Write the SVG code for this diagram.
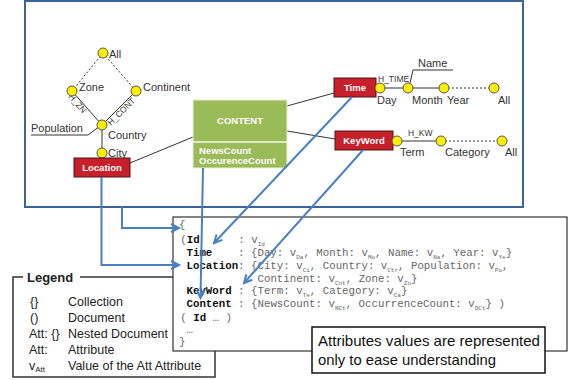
<svg xmlns="http://www.w3.org/2000/svg" width="577" height="380" viewBox="0 0 577 380">
<defs>
<style>
.lbl{font-family:"Liberation Sans",Arial,sans-serif;font-size:11px;fill:#333}
.sm{font-family:"Liberation Sans",Arial,sans-serif;font-size:8.5px;fill:#333}
.bx{font-family:"Liberation Sans",Arial,sans-serif;font-size:9.5px;font-weight:bold;fill:#fff}
.red{fill:#c8202a;stroke:#4a1414;stroke-width:1}
.dot{fill:#ffee00;stroke:#555;stroke-width:1}
.ln{stroke:#333;stroke-width:1;fill:none}
.dash{stroke:#333;stroke-width:1;fill:none;stroke-dasharray:2,2}
.blue{stroke:#4a7fc1;stroke-width:2;fill:none;marker-end:url(#ah)}
.code{font-family:"Liberation Mono","Courier New",monospace;font-size:10.75px;fill:#666;white-space:pre}
.k{font-weight:bold;fill:#111}
.s{font-size:6px}
.leg{font-family:"Liberation Sans",Arial,sans-serif;font-size:12.5px;fill:#222}
.note{font-family:"Liberation Sans",Arial,sans-serif;font-size:14.5px;fill:#111}
</style>
<marker id="ah" markerUnits="userSpaceOnUse" markerWidth="12" markerHeight="12" refX="9" refY="5" orient="auto" viewBox="0 0 12 10">
<path d="M1,1 L9,5 L1,9" fill="none" stroke="#4a7fc1" stroke-width="2"/>
</marker>
</defs>
<rect width="577" height="380" fill="#fff"/>

<g id="frame">
<rect x="25" y="1" width="498" height="206" fill="none" stroke="#3c6496" stroke-width="2"/>
</g>

<g id="edges">
<line class="dash" x1="103" y1="53" x2="72" y2="91"/>
<line class="dash" x1="103" y1="53" x2="136" y2="91"/>
<line class="ln" x1="72" y1="91" x2="102" y2="125"/>
<line class="ln" x1="136" y1="91" x2="102" y2="125"/>
<line class="ln" x1="102" y1="125" x2="102" y2="153"/>
<polyline class="ln" points="31,135 88,135 100,126"/>
<line class="ln" x1="130" y1="163" x2="193" y2="137"/>
<line class="ln" x1="287" y1="106" x2="334" y2="93"/>
<line class="ln" x1="287" y1="131" x2="335" y2="139"/>
<line class="ln" x1="376" y1="88" x2="444" y2="88"/>
<line class="dash" x1="444" y1="88" x2="494" y2="88"/>
<polyline class="ln" points="453,70 413,70 410,83"/>
<line class="ln" x1="393" y1="141" x2="441" y2="141"/>
<line class="dash" x1="441" y1="141" x2="502" y2="141"/>
<text class="sm" transform="translate(68,97) rotate(48.6)">H_ZN</text>
<text class="sm" transform="translate(111,126) rotate(-45)">H_CONT</text>
<text class="sm" x="378" y="82">H_TIME</text>
<text class="sm" x="408" y="136">H_KW</text>
</g>

<g id="location-hierarchy">
<circle class="dot" cx="103" cy="53" r="5"/>
<circle class="dot" cx="72" cy="91" r="5"/>
<circle class="dot" cx="136" cy="91" r="5"/>
<circle class="dot" cx="102" cy="125" r="5"/>
<circle class="dot" cx="102" cy="153" r="5"/>
<text class="lbl" x="109" y="58">All</text>
<text class="lbl" x="79" y="91">Zone</text>
<text class="lbl" x="143" y="91">Continent</text>
<text class="lbl" x="108" y="139">Country</text>
<text class="lbl" x="108" y="157">City</text>
<text class="lbl" x="31" y="132">Population</text>
</g>

<g id="location">
<rect class="red" x="74" y="158" width="56" height="19"/>
<text class="bx" x="102" y="171" text-anchor="middle">Location</text>
</g>

<g id="content">
<rect x="193" y="100" width="94" height="68" fill="#9bbb59" stroke="#e6eed8" stroke-width="1"/>
<line x1="193" y1="142" x2="287" y2="142" stroke="#f4f8ee" stroke-width="1.5"/>
<text class="bx" x="240" y="124" text-anchor="middle">CONTENT</text>
<text class="bx" x="199" y="154">NewsCount</text>
<text class="bx" x="199" y="164">OccurenceCount</text>
</g>

<g id="time">
<rect class="red" x="334" y="78" width="42" height="19"/>
<text class="bx" x="355" y="91" text-anchor="middle">Time</text>
<circle class="dot" cx="380" cy="88" r="5"/>
<circle class="dot" cx="408" cy="88" r="5"/>
<circle class="dot" cx="444" cy="88" r="5"/>
<circle class="dot" cx="494" cy="88" r="5"/>
<text class="lbl" x="377" y="104">Day</text>
<text class="lbl" x="412" y="104">Month</text>
<text class="lbl" x="447" y="104">Year</text>
<text class="lbl" x="498" y="104">All</text>
<text class="lbl" x="418" y="67">Name</text>
</g>

<g id="keyword">
<rect class="red" x="335" y="131" width="58" height="19"/>
<text class="bx" x="364" y="144" text-anchor="middle">KeyWord</text>
<circle class="dot" cx="397" cy="141" r="5"/>
<circle class="dot" cx="441" cy="141" r="5"/>
<circle class="dot" cx="502" cy="141" r="5"/>
<text class="lbl" x="400" y="156">Term</text>
<text class="lbl" x="445" y="156">Category</text>
<text class="lbl" x="505" y="156">All</text>
</g>

<g id="legend">
<path d="M23,277 H13 V377 H215 V350" fill="none" stroke="#333" stroke-width="1.5"/>
<line x1="80" y1="277" x2="175" y2="277" stroke="#333" stroke-width="1.5"/>
<text x="27" y="282" font-family="'Liberation Sans',Arial,sans-serif" font-size="13" font-weight="bold" fill="#222">Legend</text>
<text class="leg" x="30" y="306">{}</text>
<text class="leg" x="68" y="306">Collection</text>
<text class="leg" x="30" y="322">()</text>
<text class="leg" x="68" y="322">Document</text>
<text class="leg" x="29" y="338">Att: {}</text>
<text class="leg" x="68" y="338">Nested Document</text>
<text class="leg" x="29" y="354">Att:</text>
<text class="leg" x="68" y="354">Attribute</text>
<text class="leg" x="29" y="370">v<tspan font-size="8" dy="2">Att</tspan></text>
<text class="leg" x="68" y="370">Value of the Att Attribute</text>
</g>

<g id="document">
<rect x="173" y="217" width="394" height="134" fill="#fff" stroke="#333" stroke-width="1.2"/>
<text class="code" x="179" y="228" xml:space="preserve">{</text>
<text class="code" x="180.3" y="243" xml:space="preserve">(<tspan class="k">Id</tspan>      : v<tspan class="s" dy="2.5">Id</tspan></text>
<text class="code" x="186.5" y="256" xml:space="preserve"><tspan class="k">Time</tspan>    : {Day: v<tspan class="s" dy="2.5">Da</tspan><tspan dy="-2.5">, Month: v</tspan><tspan class="s" dy="2.5">Mo</tspan><tspan dy="-2.5">, Name: v</tspan><tspan class="s" dy="2.5">Na</tspan><tspan dy="-2.5">, Year: v</tspan><tspan class="s" dy="2.5">Ye</tspan><tspan dy="-2.5">}</tspan></text>
<text class="code" x="186.5" y="269" xml:space="preserve"><tspan class="k">Location</tspan>: {City: v<tspan class="s" dy="2.5">Ci</tspan><tspan dy="-2.5">, Country: v</tspan><tspan class="s" dy="2.5">Ctr</tspan><tspan dy="-2.5">, Population: v</tspan><tspan class="s" dy="2.5">Po</tspan><tspan dy="-2.5">,</tspan></text>
<text class="code" x="257.5" y="282" xml:space="preserve">Continent: v<tspan class="s" dy="2.5">Cnt</tspan><tspan dy="-2.5">, Zone: v</tspan><tspan class="s" dy="2.5">Zn</tspan><tspan dy="-2.5">}</tspan></text>
<text class="code" x="186.5" y="294" xml:space="preserve"><tspan class="k">KeyWord</tspan> : {Term: v<tspan class="s" dy="2.5">Te</tspan><tspan dy="-2.5">, Category: v</tspan><tspan class="s" dy="2.5">Ca</tspan><tspan dy="-2.5">}</tspan></text>
<text class="code" x="186.5" y="307" xml:space="preserve"><tspan class="k">Content</tspan> : {NewsCount: v<tspan class="s" dy="2.5">NCt</tspan><tspan dy="-2.5">, OccurrenceCount: v</tspan><tspan class="s" dy="2.5">OCt</tspan><tspan dy="-2.5">} )</tspan></text>
<text class="code" x="180.3" y="321" xml:space="preserve">( <tspan class="k">Id</tspan> … )</text>
<text class="code" x="186.5" y="333" xml:space="preserve">…</text>
<text class="code" x="179" y="345" xml:space="preserve">}</text>
</g>

<g id="note">
<rect x="312" y="327" width="233" height="46" fill="#fff" stroke="#111" stroke-width="1.5"/>
<text class="note" x="318" y="346" textLength="222" lengthAdjust="spacingAndGlyphs">Attributes values are represented</text>
<text class="note" x="318" y="365" textLength="178" lengthAdjust="spacingAndGlyphs">only to ease understanding</text>
</g>

<g id="connectors">
<path class="blue" d="M101.5,177 V265 H179"/>
<path class="blue" d="M122,207 V228 H179"/>
<path class="blue" d="M203,168 L200.5,298"/>
<path class="blue" d="M352,97 L214,243"/>
<path class="blue" d="M363,150 L244,283"/>
</g>
</svg>
